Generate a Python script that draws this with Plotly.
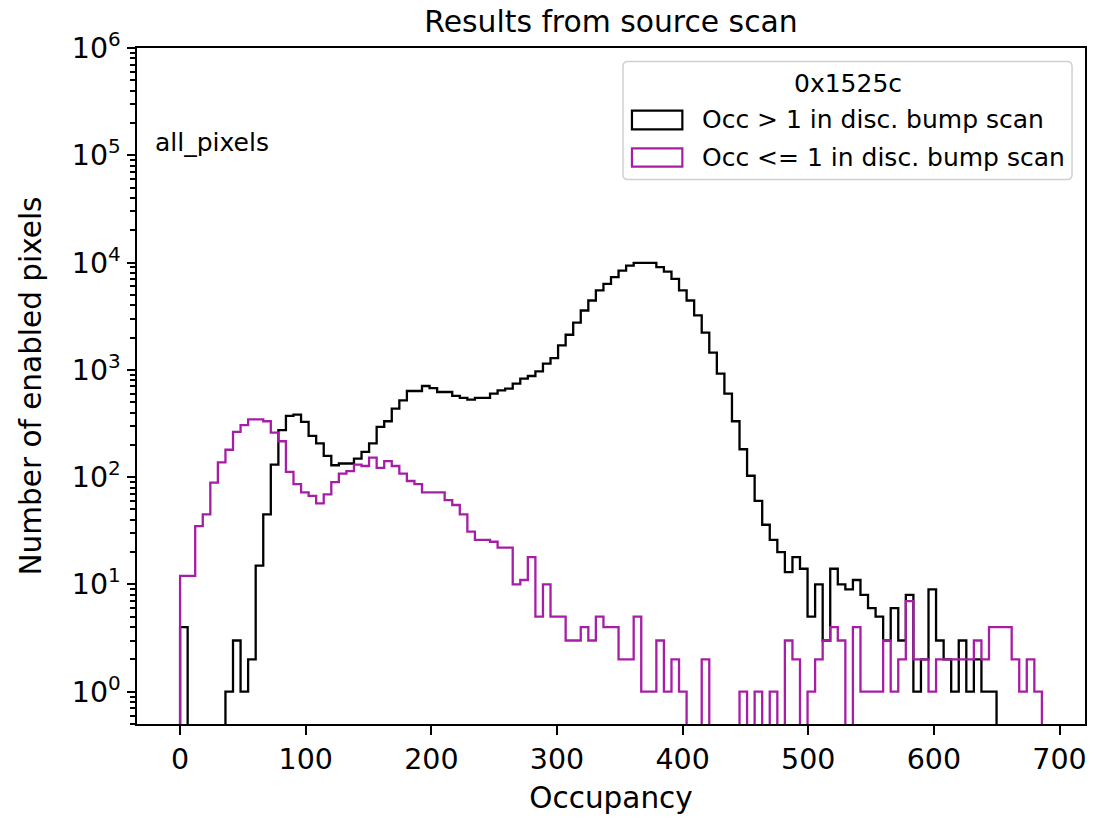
import numpy as np
import plotly.graph_objects as go

# Histogram binning of the occupancy axis
OCC_MAX = 686
N_BINS = 114

# Pixels with occupancy > 1 in the discriminator bump scan (counts per bin)
counts_high = [
    4, 0, 0, 0, 0, 0, 1, 3, 1, 2,
    15, 45, 131, 274, 372, 383, 327, 242, 206, 158,
    129, 134, 134, 149, 172, 206, 294, 332, 436, 520,
    635, 635, 707, 677, 622, 622, 571, 547, 528, 547,
    547, 600, 645, 668, 744, 828, 876, 968, 1141, 1288,
    1690, 2125, 2750, 3575, 4430, 5495, 6340, 7310, 8430, 9380,
    9950, 10050, 9950, 9050, 8240, 7050, 5495, 4430, 3215, 2220,
    1445, 922, 600, 332, 182, 103, 60, 36, 26, 20,
    13, 18, 14, 5, 10, 3, 14, 10, 9, 11,
    8, 6, 5, 3, 6, 3, 8, 1, 2, 9,
    3, 2, 1, 3, 1, 2, 1, 1, 0, 0,
    0, 0, 0, 0,
]

# Pixels with occupancy <= 1 in the discriminator bump scan (counts per bin)
counts_low = [
    12, 12, 35, 45, 89, 137, 180, 264, 305, 346,
    346, 332, 260, 216, 112, 86, 72, 67, 57, 69,
    90, 108, 114, 131, 127, 152, 122, 141, 127, 108,
    92, 86, 72, 72, 72, 61, 55, 45, 31, 26,
    26, 25, 22, 22, 10, 11, 18, 5, 10, 5,
    5, 3, 3, 4, 3, 5, 4, 4, 2, 2,
    5, 1, 1, 3, 1, 2, 1, 0, 0, 2,
    0, 0, 0, 0, 1, 0, 1, 0, 1, 0,
    3, 2, 0, 1, 2, 3, 4, 3, 0, 4,
    1, 1, 1, 3, 1, 2, 7, 2, 2, 1,
    2, 2, 2, 2, 2, 3, 2, 4, 4, 4,
    2, 1, 2, 1,
]

TITLE = "Results from source scan"
X_LABEL = "Occupancy"
Y_LABEL = "Number of enabled pixels"
LEGEND_TITLE = "0x1525c"
LABEL_HIGH = "Occ > 1 in disc. bump scan"
LABEL_LOW = "Occ <= 1 in disc. bump scan"
TAG = "all_pixels"
X_TICKS = [0, 100, 200, 300, 400, 500, 600, 700]
Y_DECADES = [0, 1, 2, 3, 4, 5, 6]

COLOR_HIGH = "#000000"
COLOR_LOW = "#a61ea6"
FONT = "DejaVu Sans"
FS_TEXT = 25        # legend and in-axes tag
FS_TICK = 28.5      # tick labels
FS_LABEL = 29.5     # axis titles
FS_TITLE = 29.8     # figure title

edges = np.linspace(0, OCC_MAX, N_BINS + 1)
FLOOR = 1e-3  # empty bins sit below the visible log range


def step_outline(counts):
    """Outline of a step histogram: rise from the floor, one flat top per bin, fall back."""
    xs, ys = [edges[0]], [FLOOR]
    for i, c in enumerate(counts):
        v = c if c > 0 else FLOOR
        xs += [edges[i], edges[i + 1]]
        ys += [v, v]
    xs.append(edges[-1])
    ys.append(FLOOR)
    return xs, ys


fig = go.Figure()
for counts, color, name in [(counts_high, COLOR_HIGH, LABEL_HIGH),
                            (counts_low, COLOR_LOW, LABEL_LOW)]:
    xs, ys = step_outline(counts)
    fig.add_trace(go.Scatter(x=xs, y=ys, mode="lines", name=name,
                             line=dict(color=color, width=2.3),
                             showlegend=False, hoverinfo="skip"))

# Plot-area geometry (pixels) used to place the legend box in paper units
W, H = 1097, 819
ML, MR, MT, MB = 137, 10, 48, 95
PW, PH = W - ML - MR, H - MT - MB


def px(xp):
    return (xp - ML) / PW


def py(yp):
    return (H - MB - yp) / PH


def rounded_rect(x0, y0, x1, y1, r=5):
    """SVG path of a rounded rectangle given in pixel coordinates, converted to paper units."""
    def P(x, y):
        return f"{px(x):.5f},{py(y):.5f}"
    parts = [
        "M" + P(x0 + r, y0),
        "L" + P(x1 - r, y0),
        "Q" + P(x1, y0) + " " + P(x1, y0 + r),
        "L" + P(x1, y1 - r),
        "Q" + P(x1, y1) + " " + P(x1 - r, y1),
        "L" + P(x0 + r, y1),
        "Q" + P(x0, y1) + " " + P(x0, y1 - r),
        "L" + P(x0, y0 + r),
        "Q" + P(x0, y0) + " " + P(x0 + r, y0),
    ]
    return " ".join(parts) + " Z"


shapes = [
    dict(type="path", xref="paper", yref="paper",
         path=rounded_rect(624, 61.5, 1074, 179.5),
         line=dict(color="#d0d0d0", width=1.5),
         fillcolor="rgba(255,255,255,0.8)", layer="above"),
]
annotations = [
    dict(text=LEGEND_TITLE, xref="paper", yref="paper", x=px(849), y=py(83),
         xanchor="center", yanchor="middle", showarrow=False,
         font=dict(family=FONT, size=FS_TEXT, color="black")),
    dict(text=TAG, xref="paper", yref="paper", x=px(153), y=py(142),
         xanchor="left", yanchor="middle", showarrow=False,
         font=dict(family=FONT, size=FS_TEXT, color="black")),
]
for (ytop, ybot, ytxt), color, label in [((110.7, 129.3, 120), COLOR_HIGH, LABEL_HIGH),
                                         ((148.3, 166.7, 157), COLOR_LOW, LABEL_LOW)]:
    shapes.append(dict(type="rect", xref="paper", yref="paper",
                       x0=px(633), x1=px(683.5), y0=py(ybot), y1=py(ytop),
                       line=dict(color=color, width=2.2),
                       fillcolor="rgba(0,0,0,0)", layer="above"))
    annotations.append(dict(text=label, xref="paper", yref="paper", x=px(701),
                            y=py(ytxt), xanchor="left", yanchor="middle",
                            showarrow=False,
                            font=dict(family=FONT, size=FS_TEXT, color="black")))

minor_vals = [m * 10.0 ** k for k in range(-1, 6) for m in range(2, 10)
              if 0.5 <= m * 10.0 ** k <= 1e6]

fig.update_layout(
    width=W, height=H,
    margin=dict(l=ML, r=MR, t=MT, b=MB),
    paper_bgcolor="white", plot_bgcolor="white",
    font=dict(family=FONT, size=FS_TEXT, color="black"),
    title=dict(text=TITLE, x=0.5, xref="paper", xanchor="center",
               y=1, yref="paper", yanchor="bottom", pad=dict(b=16),
               font=dict(family=FONT, size=FS_TITLE, color="black")),
    showlegend=False,
    shapes=shapes,
    annotations=annotations,
    xaxis=dict(range=[-0.05 * OCC_MAX, 1.05 * OCC_MAX],
               tickvals=X_TICKS, ticktext=[str(v) for v in X_TICKS],
               ticks="outside", ticklen=8.5, tickwidth=2, tickcolor="black",
               showline=True, linecolor="black", linewidth=2, mirror=True,
               showgrid=False, zeroline=False,
               tickfont=dict(family=FONT, size=FS_TICK, color="black"),
               title=dict(text=X_LABEL, standoff=13,
                          font=dict(family=FONT, size=FS_LABEL, color="black"))),
    yaxis=dict(type="log", range=[np.log10(0.5), 6],
               tickvals=[10.0 ** d for d in Y_DECADES],
               ticktext=[f"10<sup>{d}</sup>" for d in Y_DECADES],
               ticks="outside", ticklen=8.5, tickwidth=2, tickcolor="black",
               minor=dict(tickvals=minor_vals, ticks="outside", ticklen=5,
                          tickwidth=1.5, tickcolor="black", showgrid=False),
               showline=True, linecolor="black", linewidth=2, mirror=True,
               showgrid=False, zeroline=False,
               tickfont=dict(family=FONT, size=FS_TICK, color="black"),
               title=dict(text=Y_LABEL, standoff=22,
                          font=dict(family=FONT, size=FS_LABEL, color="black"))),
)

fig.write_html("out.html")
